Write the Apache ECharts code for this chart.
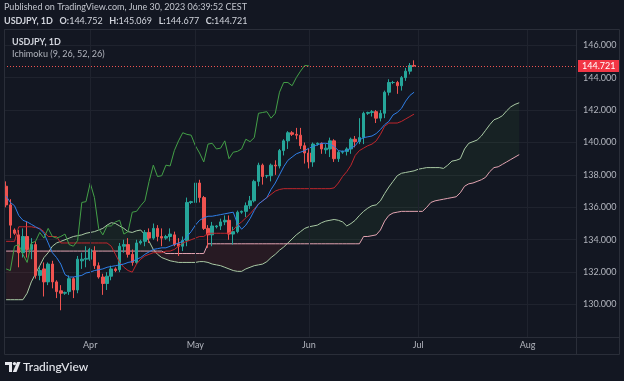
<!DOCTYPE html>
<html><head><meta charset="utf-8">
<script src="https://cdn.jsdelivr.net/npm/echarts@6.0.0/dist/echarts.min.js"></script>
<style>html,body{margin:0;padding:0;background:#131722;}#c{width:624px;height:381px;}</style>
</head><body><div id="c"></div><script>
// trading days (forex feed with Sunday bars), Mar 9 .. Aug 14 2023
const dates = [
'2023-03-09','2023-03-10','2023-03-12','2023-03-13','2023-03-14','2023-03-15','2023-03-16','2023-03-17','2023-03-19','2023-03-20','2023-03-21','2023-03-22','2023-03-23','2023-03-24','2023-03-26','2023-03-27','2023-03-28','2023-03-29','2023-03-30','2023-03-31',
'2023-04-02','2023-04-03','2023-04-04','2023-04-05','2023-04-06','2023-04-07','2023-04-09','2023-04-10','2023-04-11','2023-04-12','2023-04-13','2023-04-14','2023-04-16','2023-04-17','2023-04-18','2023-04-19','2023-04-20','2023-04-21','2023-04-23','2023-04-24','2023-04-25','2023-04-26','2023-04-27','2023-04-28','2023-04-30',
'2023-05-01','2023-05-02','2023-05-03','2023-05-04','2023-05-05','2023-05-07','2023-05-08','2023-05-09','2023-05-10','2023-05-11','2023-05-12','2023-05-14','2023-05-15','2023-05-16','2023-05-17','2023-05-18','2023-05-19','2023-05-21','2023-05-22','2023-05-23','2023-05-24','2023-05-25','2023-05-26','2023-05-28','2023-05-29','2023-05-30','2023-05-31',
'2023-06-01','2023-06-02','2023-06-04','2023-06-05','2023-06-06','2023-06-07','2023-06-08','2023-06-09','2023-06-11','2023-06-12','2023-06-13','2023-06-14','2023-06-15','2023-06-16','2023-06-18','2023-06-19','2023-06-20','2023-06-21','2023-06-22','2023-06-23','2023-06-25','2023-06-26','2023-06-27','2023-06-28','2023-06-29','2023-06-30',
'2023-07-02','2023-07-03','2023-07-04','2023-07-05','2023-07-06','2023-07-07','2023-07-09','2023-07-10','2023-07-11','2023-07-12','2023-07-13','2023-07-14','2023-07-16','2023-07-17','2023-07-18','2023-07-19','2023-07-20','2023-07-21','2023-07-23','2023-07-24','2023-07-25','2023-07-26','2023-07-27','2023-07-28','2023-07-30','2023-07-31',
'2023-08-01','2023-08-02','2023-08-03','2023-08-04','2023-08-06','2023-08-07','2023-08-08','2023-08-09','2023-08-10','2023-08-11','2023-08-13','2023-08-14'
];
const opens = [137.3,136.15,134.6,134.3,133.2,134.2,133.4,133.7,131.8,132.2,131.4,132.5,131.4,130.85,130.7,130.8,131.6,130.9,132.7,132.8,
132.8,133.3,132.4,131.7,131.3,131.75,132.2,132.15,133.6,133.7,133.1,132.6,133.8,133.9,134.45,134.1,134.7,134.2,134.1,134.2,134.3,133.75,133.6,133.95,136.3,
136.3,137.5,136.6,134.7,134.3,134.8,134.85,135.1,135.2,134.35,134.5,135.7,135.75,136.1,136.4,137.6,138.6,137.95,137.95,138.6,138.55,139.5,140.1,140.6,140.5,140.45,139.8,
139.35,138.8,139.9,139.95,139.55,139.6,140.1,139.0,139.4,139.45,139.6,140.2,140.05,140.3,141.8,141.85,141.9,141.5,141.8,143.1,143.7,143.7,143.5,144.0,144.4,144.752];
const highs = [137.6,136.5,134.7,134.6,134.7,135.1,134.1,133.9,132.3,132.6,132.6,132.7,131.5,131.2,130.8,131.8,131.7,133.0,133.2,133.6,
133.5,133.6,132.6,131.9,132.0,132.4,132.3,133.8,134.0,134.1,133.4,134.0,134.0,134.6,134.7,135.0,134.9,134.7,134.3,134.7,134.5,134.1,134.2,136.6,136.4,
137.8,137.7,136.7,134.9,135.1,134.9,135.3,135.5,135.5,134.8,135.8,135.8,136.3,136.7,137.7,138.75,138.7,138.0,138.7,138.9,139.6,140.2,140.7,140.7,140.9,140.9,140.0,
139.6,140.0,140.0,140.0,139.9,140.3,140.2,139.5,139.5,139.7,140.3,140.4,141.5,141.9,141.9,142.0,142.0,142.0,143.2,143.9,143.8,143.8,144.1,144.6,144.9,145.069];
const lows = [136.0,134.1,134.3,132.3,132.9,132.9,132.8,131.6,131.5,130.5,131.2,131.0,130.4,129.65,130.6,130.6,130.4,130.7,132.2,132.3,
132.7,132.2,131.6,130.6,130.9,131.5,132.0,132.0,133.2,132.9,132.4,132.5,133.7,133.6,133.8,134.0,133.9,133.6,134.0,133.9,133.6,133.0,133.3,133.6,136.2,
136.2,136.3,134.6,133.5,133.6,134.7,134.6,134.9,134.0,133.7,134.4,135.6,135.4,135.9,136.3,137.3,137.4,137.8,137.6,138.0,138.4,139.2,139.6,140.4,140.2,139.6,138.7,
138.4,138.5,139.8,139.3,139.3,139.1,138.8,138.8,139.3,139.2,139.3,139.7,139.9,139.9,141.7,141.6,141.2,141.3,141.5,142.9,143.6,143.0,143.2,143.8,144.2,144.677];
const closes = [136.15,134.9,134.4,133.2,134.2,133.4,133.7,131.8,132.1,131.4,132.5,131.4,130.8,130.7,130.75,131.6,130.9,132.8,132.8,132.85,
133.4,132.4,131.7,131.3,131.75,132.2,132.1,133.6,133.7,133.1,132.6,133.8,133.9,134.45,134.1,134.7,134.2,134.1,134.2,134.35,133.7,133.6,133.95,136.3,136.35,
137.5,136.6,134.7,134.3,134.85,134.85,135.1,135.2,134.35,134.5,135.7,135.75,136.1,136.4,137.6,138.6,137.9,137.95,138.6,138.55,139.5,140.1,140.6,140.5,140.45,139.8,139.35,
138.8,139.9,139.95,139.6,139.65,140.1,139.0,139.4,139.45,139.6,140.2,140.05,140.3,141.8,141.85,141.9,141.5,141.8,143.1,143.7,143.7,143.5,144.0,144.4,144.75,144.721];
// Ichimoku lines
const tenkan = [136.7,136.3,136.1,135.5,135.2,135.1,134.95,134.8,134.65,134.4,133.8,133.2,132.9,132.5,131.85,131.7,131.7,131.75,131.8,131.95,
132.0,132.1,132.15,132.2,132.3,132.35,132.4,132.45,132.5,132.6,132.65,132.8,132.9,133.1,133.25,133.4,133.45,133.5,133.5,133.6,133.7,133.8,133.9,134.2,134.5,
134.9,135.2,135.35,135.45,135.45,135.5,135.55,135.6,135.65,135.7,135.0,134.65,134.9,135.3,135.8,136.2,136.4,136.6,137.1,137.5,138.0,138.5,138.9,139.1,139.3,139.4,139.5,
139.65,139.75,139.85,139.95,139.95,139.9,139.75,139.5,139.45,139.5,139.65,139.8,140.15,140.3,140.35,140.4,140.55,140.8,141.1,141.3,141.7,141.85,142.1,142.55,142.9,143.1];
const kijun = [133.9,133.9,133.9,134.8,134.8,134.8,134.8,134.75,134.7,134.5,134.2,134.2,134.2,133.8,133.8,133.8,133.8,133.8,133.8,133.8,
133.8,133.8,133.8,133.8,133.8,133.6,133.1,132.6,132.3,132.1,132.0,132.5,132.8,133.0,133.1,133.2,133.2,133.2,133.3,133.3,133.4,133.6,133.8,133.9,134.0,
134.1,134.2,134.2,134.4,134.4,134.4,134.4,134.4,134.4,134.6,134.9,135.1,135.35,135.6,135.9,136.2,136.4,136.6,136.8,137.0,137.1,137.15,137.15,137.15,137.15,137.15,137.15,
137.15,137.15,137.15,137.15,137.15,137.15,137.2,137.5,137.9,138.2,138.6,139.2,139.5,139.65,139.8,139.9,140.1,140.5,141.0,141.2,141.2,141.2,141.3,141.45,141.6,141.75];
const senkouA = [130.3,130.3,130.3,130.3,130.3,130.7,131.4,131.9,132.4,132.9,133.2,133.6,133.8,133.9,134.0,134.1,134.2,134.25,134.3,134.4,
134.45,134.5,134.6,134.7,134.9,135.05,135.0,134.85,134.7,134.5,134.45,134.55,134.6,134.3,133.9,133.4,133.1,132.9,132.8,132.7,132.65,132.6,132.6,132.6,132.6,
132.6,132.65,132.65,132.6,132.5,132.45,132.4,132.3,132.2,132.1,132.05,132.05,132.2,132.3,132.4,132.45,132.5,132.65,132.9,133.1,133.35,133.55,133.8,134.05,134.3,134.5,134.7,
134.8,134.85,134.9,135.05,135.15,135.2,135.25,135.2,135.1,134.85,135.0,135.2,135.5,135.75,135.95,136.1,136.15,136.4,136.85,137.25,137.6,137.95,138.1,138.15,138.2,138.25,
138.35,138.4,138.45,138.45,138.45,138.45,138.4,138.6,138.85,138.9,139.0,139.6,139.95,140.05,140.15,140.4,140.75,141.1,141.4,141.5,141.65,141.95,142.2,142.35,142.45];
const senkouB = [133.3,133.3,133.3,133.3,133.3,133.3,133.3,133.3,133.3,133.3,133.3,133.3,133.3,133.3,133.3,133.3,133.3,133.3,133.3,133.3,
133.3,133.3,133.3,133.3,133.3,133.3,133.3,133.3,133.3,133.3,133.3,133.3,133.3,133.3,133.3,133.3,133.3,133.3,133.15,133.15,133.15,133.15,133.15,133.15,133.15,
133.15,133.15,133.15,133.75,133.75,133.75,133.75,133.75,133.75,133.75,133.75,133.75,133.75,133.75,133.75,133.75,133.75,133.75,133.75,133.75,133.75,133.75,133.75,133.75,133.75,133.75,133.75,
133.75,133.75,133.75,133.75,133.75,133.75,133.75,133.75,133.75,133.75,133.75,133.75,133.75,134.2,134.2,134.25,134.3,134.6,135.15,135.5,135.65,135.7,135.75,135.75,135.75,135.75,
135.75,135.75,136.0,136.3,136.4,136.45,136.5,136.55,136.6,136.65,136.9,137.3,137.45,137.5,137.6,137.7,137.85,138.2,138.45,138.5,138.65,138.8,138.95,139.1,139.25];
const priceTicks = [130,132,134,136,138,140,142,144,146];
const monthNames = ['Jan','Feb','Mar','Apr','May','Jun','Jul','Aug','Sep','Oct','Nov','Dec'];
const chikouShift = 25;

function isMonthStart(k){ return k > 0 && dates[k].slice(5,7) !== dates[k-1].slice(5,7); }
const candles = opens.map((o,k)=>[o, closes[k], lows[k], highs[k]]);
const chikou = dates.map((d,k)=> (k+chikouShift < closes.length) ? closes[k+chikouShift] : null);
const cloudLow = senkouA.map((a,k)=>Math.min(a, senkouB[k]));
const cloudUp = senkouA.map((a,k)=>Math.max(a - senkouB[k], 0));
const cloudDn = senkouA.map((a,k)=>Math.max(senkouB[k] - a, 0));
const monthLines = dates.filter((d,k)=>isMonthStart(k)).map(d=>({xAxis:d}));
const lastClose = closes[closes.length-1];

const FONT = 'Lato, "Liberation Sans", sans-serif';
const chart = echarts.init(document.getElementById('c'), null, {renderer:'canvas'});
const lineBase = {type:'line', showSymbol:false, symbol:'none', silent:true, animation:false};
chart.setOption({
  backgroundColor:'#131722',
  animation:false,
  textStyle:{fontFamily:FONT},
  grid:{left:4, right:48, top:29, bottom:44, containLabel:false, outerBoundsMode:'none'},
  xAxis:{type:'category', data:dates, boundaryGap:true,
    axisLine:{show:false}, axisTick:{show:false}, splitLine:{show:false},
    axisLabel:{interval:(idx)=>isMonthStart(idx), formatter:(v)=>monthNames[+v.slice(5,7)-1],
      color:'#b2b5be', fontSize:9, margin:4, fontFamily:FONT}},
  yAxis:{type:'value', position:'right', min:128, max:147, interval:2, scale:true,
    axisLine:{show:false}, axisTick:{show:false},
    splitLine:{show:true, lineStyle:{color:'#1f232e', width:1}},
    axisLabel:{color:'#b2b5be', fontSize:9, margin:7, fontFamily:FONT,
      formatter:(v)=> priceTicks.indexOf(v) >= 0 ? v.toFixed(3) : ''}},
  series:[
    Object.assign({}, lineBase, {name:'months', data:dates.map(()=>null), z:1,
      markLine:{silent:true, symbol:['none','none'], animation:false, label:{show:false},
        lineStyle:{color:'#1f232e', width:1, type:'solid'}, data:monthLines}}),
    Object.assign({}, lineBase, {name:'cloudBase', data:cloudLow, stack:'cloud', z:1, lineStyle:{opacity:0}}),
    Object.assign({}, lineBase, {name:'cloudUp', data:cloudUp, stack:'cloud', z:1, lineStyle:{opacity:0},
      areaStyle:{color:'rgba(67,160,71,0.13)'}}),
    Object.assign({}, lineBase, {name:'cloudDn', data:cloudDn, stack:'cloud', z:1, lineStyle:{opacity:0},
      areaStyle:{color:'rgba(244,67,54,0.13)'}}),
    Object.assign({}, lineBase, {name:'Lead 1', data:senkouA, z:2, lineStyle:{color:'#a9c9a4', width:1}}),
    Object.assign({}, lineBase, {name:'Lead 2', data:senkouB, z:2, lineStyle:{color:'#e2a3b1', width:1}}),
    {type:'candlestick', name:'USDJPY', data:candles, z:3, barWidth:3, silent:true, animation:false,
      itemStyle:{color:'#26a69a', color0:'#ef5350', borderColor:'#26a69a', borderColor0:'#ef5350', borderWidth:1},
      markLine:{silent:true, symbol:['none','none'], animation:false,
        lineStyle:{color:'#ef5350', width:1, type:[1,2]},
        label:{show:true, position:'end', distance:2, formatter:lastClose.toFixed(3), color:'#ffffff',
          backgroundColor:'#f23645', padding:[2,4,1,4], fontSize:9, fontFamily:FONT},
        data:[{yAxis:lastClose}]}},
    Object.assign({}, lineBase, {name:'Base Line', data:kijun, z:4, lineStyle:{color:'#c0262c', width:1}}),
    Object.assign({}, lineBase, {name:'Conversion Line', data:tenkan, z:4, lineStyle:{color:'#2f7fe8', width:1}}),
    Object.assign({}, lineBase, {name:'Lagging Span', data:chikou, z:4, lineStyle:{color:'#43a047', width:1}})
  ],
  graphic:[
    {type:'rect', silent:true, z:100, shape:{x:4.5,y:29.5,width:615,height:325}, style:{fill:'none', stroke:'#2a2e39', lineWidth:1}},
    {type:'line', silent:true, z:100, shape:{x1:576.5,y1:29.5,x2:576.5,y2:354.5}, style:{stroke:'#2a2e39', lineWidth:1}},
    {type:'line', silent:true, z:100, shape:{x1:4.5,y1:337.5,x2:619.5,y2:337.5}, style:{stroke:'#2a2e39', lineWidth:1}},
    {type:'text', silent:true, z:100, left:4, top:3, style:{text:'Published on TradingView.com, June 30, 2023 06:39:52 CEST',
      fill:'#c3c6ce', fontSize:9, fontFamily:FONT}},
    {type:'text', silent:true, z:100, left:4, top:15, style:{
      text:'{b|USDJPY, 1D}  {b|O:}{n|144.752}  {b|H:}{n|145.069}  {b|L:}{n|144.677}  {b|C:}{n|144.721}',
      rich:{b:{fontWeight:'bold', fill:'#d1d4dc', fontSize:9, fontFamily:FONT}, n:{fill:'#d1d4dc', fontSize:9, fontFamily:FONT}}}},
    {type:'text', silent:true, z:100, left:12, top:38, style:{text:'USDJPY, 1D', fill:'#d1d4dc', fontSize:9, fontWeight:'bold', fontFamily:FONT}},
    {type:'text', silent:true, z:100, left:12, top:50, style:{text:'Ichimoku (9, 26, 52, 26)', fill:'#b2b5be', fontSize:9, fontFamily:FONT}},
    {type:'polygon', silent:true, z:100, shape:{points:[[5,362],[12,362],[12,372],[9,372],[9,365],[5,365]]}, style:{fill:'#e6e8ee'}},
    {type:'circle', silent:true, z:100, shape:{cx:14.5, cy:363.6, r:1.7}, style:{fill:'#e6e8ee'}},
    {type:'polygon', silent:true, z:100, shape:{points:[[17,362],[20.5,362],[16.5,372],[12.8,372]]}, style:{fill:'#e6e8ee'}},
    {type:'text', silent:true, z:100, left:23, top:361, style:{text:'TradingView', fill:'#e6e8ee', fontSize:12, fontWeight:500, fontFamily:FONT}}
  ]
});
</script></body></html>
